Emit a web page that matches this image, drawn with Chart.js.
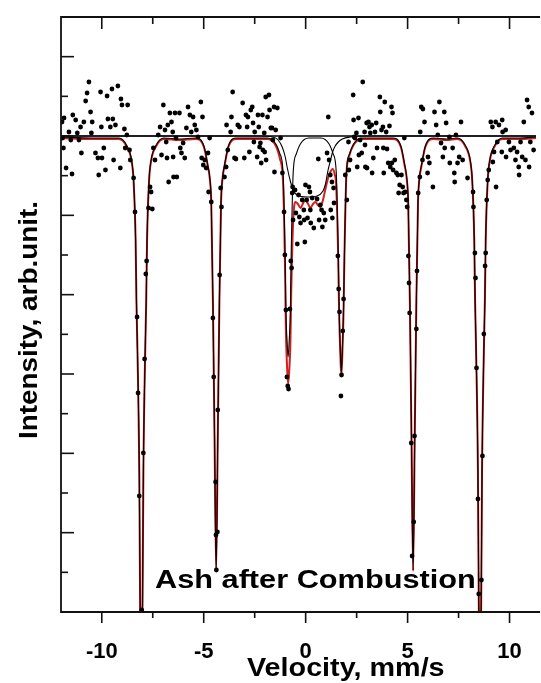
<!DOCTYPE html>
<html>
<head>
<meta charset="utf-8">
<script src="https://cdn.jsdelivr.net/npm/chart.js@4.4.1/dist/chart.umd.min.js"></script>
<style>
  html, body { margin: 0; padding: 0; background: #ffffff; overflow: hidden; }
  canvas { display: block; }
</style>
</head>
<body>
<canvas id="c" width="541" height="683"></canvas>
<script>
// ---------- data (velocity in mm/s, intensity in arb. units) ----------
const velocity = [-11.95,-11.92,-11.88,-11.85,-11.75,-11.61,-11.52,-11.46,-11.42,-11.28,-11.20,-11.12,-11.04,-11.00,-10.88,-10.79,-10.72,-10.63,-10.55,-10.51,-10.47,-10.31,-10.19,-10.15,-10.06,-10.02,-9.99,-9.90,-9.82,-9.74,-9.70,-9.58,-9.50,-9.46,-9.42,-9.33,-9.21,-9.09,-9.06,-9.01,-8.89,-8.85,-8.77,-8.73,-8.64,-8.60,-8.44,-8.37,-8.27,-8.22,-8.16,-8.04,-7.96,-7.90,-7.84,-7.80,-7.71,-7.63,-7.58,-7.52,-7.47,-7.39,-7.23,-7.14,-7.07,-6.98,-6.90,-6.84,-6.80,-6.76,-6.72,-6.66,-6.58,-6.52,-6.50,-6.48,-6.41,-6.36,-6.32,-6.19,-6.15,-6.09,-6.01,-5.93,-5.85,-5.77,-5.68,-5.61,-5.52,-5.44,-5.36,-5.28,-5.14,-5.10,-5.06,-5.02,-4.95,-4.88,-4.79,-4.76,-4.71,-4.63,-4.55,-4.51,-4.42,-4.40,-4.38,-4.33,-4.31,-4.22,-4.17,-4.13,-3.98,-3.90,-3.88,-3.82,-3.68,-3.64,-3.58,-3.49,-3.42,-3.33,-3.25,-3.09,-3.01,-2.93,-2.87,-2.83,-2.76,-2.69,-2.62,-2.58,-2.54,-2.50,-2.38,-2.34,-2.30,-2.26,-2.22,-2.18,-2.12,-2.10,-2.03,-2.01,-1.96,-1.94,-1.87,-1.80,-1.77,-1.71,-1.65,-1.61,-1.55,-1.53,-1.47,-1.39,-1.23,-1.14,-1.06,-1.02,-0.97,-0.92,-0.88,-0.84,-0.77,-0.73,-0.69,-0.66,-0.64,-0.62,-0.52,-0.48,-0.41,-0.35,-0.31,-0.25,-0.17,-0.09,-0.07,-0.04,-0.01,0.05,0.09,0.16,0.21,0.23,0.25,0.32,0.40,0.56,0.62,0.66,0.72,0.78,0.82,0.89,0.96,1.05,1.11,1.15,1.21,1.23,1.29,1.31,1.37,1.39,1.58,1.62,1.66,1.73,1.76,1.82,1.86,1.94,2.02,2.10,2.12,2.18,2.33,2.35,2.38,2.42,2.49,2.53,2.59,2.61,2.67,2.75,2.80,2.89,2.91,2.93,2.99,3.01,3.08,3.13,3.17,3.24,3.26,3.32,3.40,3.46,3.50,3.64,3.66,3.72,3.79,3.81,3.83,3.88,3.95,3.99,4.05,4.11,4.15,4.21,4.23,4.26,4.29,4.37,4.45,4.52,4.56,4.61,4.70,4.76,4.80,4.84,4.88,4.94,4.98,5.04,5.07,5.10,5.18,5.22,5.30,5.34,5.43,5.46,5.52,5.60,5.62,5.67,5.73,5.75,5.83,5.98,6.00,6.07,6.24,6.32,6.40,6.48,6.56,6.64,6.73,6.80,6.82,6.89,7.05,7.07,7.21,7.29,7.31,7.37,7.45,7.53,7.62,7.70,7.94,8.21,8.23,8.30,8.33,8.38,8.45,8.49,8.62,8.67,8.74,8.80,8.83,8.88,8.93,8.98,9.08,9.16,9.18,9.24,9.32,9.34,9.40,9.48,9.62,9.64,9.66,9.81,9.83,9.97,10.05,10.21,10.29,10.37,10.45,10.47,10.54,10.62,10.70,10.78,10.86,10.94,10.96,11.02,11.10,11.18];
const intensity = [490,474,464,494,444,480,472,438,497,492,479,472,485,459,490,511,519,530,500,479,490,459,454,437,520,485,454,464,442,516,493,485,523,493,452,487,526,444,513,507,483,464,477,507,462,452,434,400,295,219,116,2,159,253,338,351,404,425,420,403,464,452,477,485,457,507,482,470,454,487,430,499,490,480,455,435,499,474,435,499,464,459,469,454,484,505,497,480,495,487,482,475,510,454,495,447,452,444,459,420,474,410,294,235,130,77,42,80,202,337,424,405,435,445,487,462,480,495,520,454,453,487,485,509,454,497,485,495,460,502,505,489,470,480,455,497,485,465,469,449,497,462,479,460,515,452,495,517,502,484,484,472,505,440,482,504,474,439,400,357,302,235,226,223,303,351,344,419,425,392,422,399,368,417,395,389,412,402,392,370,427,412,394,425,420,402,389,414,384,413,453,392,407,402,385,399,392,459,495,452,437,402,430,394,424,409,356,323,300,216,237,281,313,437,412,470,442,452,517,492,475,474,479,445,494,457,472,459,530,480,467,445,489,444,490,485,479,487,439,454,480,489,464,515,500,482,485,464,439,510,480,463,449,486,445,505,449,499,442,452,439,437,419,427,437,425,419,474,420,412,405,356,329,299,169,56,90,176,283,341,419,435,480,505,452,503,490,439,455,449,425,500,487,477,510,469,455,500,464,489,475,449,464,439,430,477,449,455,490,452,434,420,405,359,334,244,113,18,32,156,278,346,359,412,432,442,490,485,450,460,490,425,470,487,460,492,480,482,455,470,462,464,452,460,445,437,470,455,490,452,512,505,445,470,499,462];

// fitted sextet sub-spectrum (thin black)
const sextetV = [-12,-10.5,
  -9.16,-8.79,-8.54,-8.44,-8.34,-8.30,-8.25,-8.16,-8.12,-8.06,-8.00,-7.96,-7.87,-7.82,-7.78,-7.68,-7.58,-7.33,-6.96,
  -6.2,
  -5.39,-4.99,-4.81,-4.69,-4.63,-4.55,-4.47,-4.39,-4.31,-4.23,-4.15,-4.09,-3.97,-3.79,-3.39,
  -2.6,
  -1.86,-1.46,-1.26,-1.11,-1.01,-0.97,-0.91,-0.86,-0.81,-0.75,-0.71,-0.61,-0.46,-0.26,0.14,
  0.45,
  0.75,1.15,1.35,1.50,1.60,1.64,1.70,1.75,1.80,1.86,1.90,2.00,2.15,2.35,2.75,
  3.5,
  4.27,4.67,4.85,4.97,5.03,5.11,5.19,5.27,5.35,5.43,5.51,5.57,5.69,5.87,6.27,
  6.9,
  7.45,7.82,8.07,8.17,8.27,8.31,8.36,8.45,8.49,8.55,8.61,8.65,8.74,8.79,8.83,8.93,9.03,9.28,9.65,
  10.5,11.3];
const sextetI = [475,474,
  474,467,452,432,372,312,262,139,12,-67,12,139,262,312,372,432,452,467,474,
  473,
  474,466,448,432,410,312,176,42,176,312,410,432,448,466,474,
  474,
  474,468,458,440,357,302,270,255,270,302,357,440,458,468,474,
  474,
  474,468,458,440,356,305,262,240,262,305,356,440,458,468,474,
  474,
  474,466,448,432,410,312,176,42,176,312,410,432,448,466,474,
  473,
  474,467,452,432,372,312,262,139,12,-67,12,139,262,312,372,432,452,467,474,
  474,475];

// fitted doublet sub-spectrum (thin black)
const doubletV = [-12,-2.2,-1.63,-1.35,-1.15,-1.0,-0.9,-0.74,-0.6,-0.41,0.07,0.56,0.85,0.96,1.1,1.21,1.32,1.45,1.6,1.8,2.2,3.0,11.3];
const doubletI = [476,476,475,472,465,455,444,430,421,417,415,416,421,427,442,451,460,466,470,473,475,476,476];

// total fit (red)
const totalV = [-12,-10.5,
  -9.16,-8.79,-8.54,-8.44,-8.34,-8.30,-8.25,-8.16,-8.12,-8.06,-8.00,-7.96,-7.87,-7.82,-7.78,-7.68,-7.58,-7.33,-6.96,
  -6.2,
  -5.39,-4.99,-4.81,-4.69,-4.63,-4.55,-4.47,-4.39,-4.31,-4.23,-4.15,-4.09,-3.97,-3.79,-3.39,
  -2.6,
  -1.86,-1.46,-1.26,-1.11,-1.01,-0.97,-0.91,-0.86,-0.81,-0.75,-0.71,-0.61,-0.5,-0.38,-0.25,-0.12,-0.01,0.12,0.23,0.36,
  0.48,0.6,0.72,0.85,0.96,1.1,1.21,1.32,1.42,1.50,1.60,1.64,1.70,1.75,1.80,1.86,1.90,2.00,2.15,2.35,2.75,
  3.5,
  4.27,4.67,4.85,4.97,5.03,5.11,5.19,5.27,5.35,5.43,5.51,5.57,5.69,5.87,6.27,
  6.9,
  7.45,7.82,8.07,8.17,8.27,8.31,8.36,8.45,8.49,8.55,8.61,8.65,8.74,8.79,8.83,8.93,9.03,9.28,9.65,
  10.5,11.3];
const totalI = [474,473,
  473,466,451,431,371,311,261,138,11,-68,11,138,261,311,371,431,451,466,473,
  472,
  473,465,447,431,409,311,175,41,175,311,409,431,447,465,473,
  473,
  473,466,453,430,342,282,244,228,240,268,318,392,410,408,404,409,412,408,404,408,
  410,407,405,412,422,434,440,443,438,425,350,300,258,236,258,302,354,438,457,467,473,
  473,
  473,465,447,431,409,311,175,41,175,311,409,431,447,465,473,
  472,
  473,466,451,431,371,311,261,138,11,-68,11,138,261,311,371,431,451,466,473,
  473,474];

// baseline (thin black horizontal)
const baseV = [-12, 11.3];
const baseI = [476, 476];

// axis ticks
const xTickLabels = [-10, -5, 0, 5, 10];
const xTickMarks = [-10, -7.5, -5, -2.5, 0, 2.5, 5, 7.5, 10];
const yTickCount = 15;          // intervals on the intensity axis
const yMax = 595;

const toPts = (xs, ys) => xs.map((x, i) => ({ x: x, y: ys[i] }));

const FONT = '"Liberation Sans", Arial, Helvetica, sans-serif';

function drawStretched(ctx, text, x, y, size, sx, align) {
  ctx.save();
  ctx.translate(x, y);
  ctx.scale(sx, 1);
  ctx.font = 'bold ' + size + 'px ' + FONT;
  ctx.textAlign = align;
  ctx.textBaseline = 'alphabetic';
  ctx.fillStyle = '#000';
  ctx.fillText(text, 0, 0);
  ctx.restore();
}

const framePlugin = {
  id: 'framePlugin',
  afterDraw(chart) {
    const ctx = chart.ctx;
    const a = chart.chartArea;
    const xs = chart.scales.x, ys = chart.scales.y;
    ctx.save();
    ctx.strokeStyle = '#111';
    ctx.lineWidth = 1.8;
    ctx.beginPath();
    ctx.moveTo(a.right + 4, a.top);
    ctx.lineTo(a.left, a.top);
    ctx.lineTo(a.left, a.bottom);
    ctx.lineTo(a.right + 4, a.bottom);
    ctx.stroke();

    ctx.lineWidth = 1.6;
    xTickMarks.forEach(v => {
      const p = xs.getPixelForValue(v);
      const major = (v % 5 === 0);
      ctx.beginPath();
      ctx.moveTo(p, a.top);
      ctx.lineTo(p, a.top + (major ? 12 : 7));
      ctx.moveTo(p, a.bottom);
      ctx.lineTo(p, a.bottom + (major ? 11 : 6));
      ctx.stroke();
    });
    for (let k = 1; k < yTickCount; k++) {
      const p = ys.getPixelForValue(k * yMax / yTickCount);
      const major = (k % 2 === 0);
      ctx.beginPath();
      ctx.moveTo(a.left, p);
      ctx.lineTo(a.left + (major ? 13 : 7), p);
      ctx.stroke();
    }

    // texts
    drawStretched(ctx, 'Ash after Combustion', 155, 588, 25.6, 1.2, 'left');
    drawStretched(ctx, 'Velocity, mm/s', 247, 676, 25, 1.15, 'left');
    ctx.save();
    ctx.translate(36.5, 320);
    ctx.rotate(-Math.PI / 2);
    ctx.scale(1.09, 1);
    ctx.font = 'bold 25.6px ' + FONT;
    ctx.textAlign = 'center';
    ctx.textBaseline = 'alphabetic';
    ctx.fillStyle = '#000';
    ctx.fillText('Intensity, arb.unit.', 0, 0);
    ctx.restore();
    ctx.restore();
  }
};

new Chart(document.getElementById('c'), {
  type: 'scatter',
  data: {
    datasets: [
      { label: 'data', data: toPts(velocity, intensity), showLine: false,
        pointRadius: 2.4, pointBackgroundColor: '#000', pointBorderWidth: 0, order: 0 },
      { label: 'doublet', data: toPts(doubletV, doubletI), showLine: true, pointRadius: 0,
        borderColor: '#000', borderWidth: 1.1, cubicInterpolationMode: 'monotone', order: 1 },
      { label: 'sextet', data: toPts(sextetV, sextetI), showLine: true, pointRadius: 0,
        borderColor: '#000', borderWidth: 1.1, cubicInterpolationMode: 'monotone', order: 2 },
      { label: 'total', data: toPts(totalV, totalI), showLine: true, pointRadius: 0,
        borderColor: '#d21f1f', borderWidth: 2, cubicInterpolationMode: 'monotone', order: 3 },
      { label: 'baseline', data: toPts(baseV, baseI), showLine: true, pointRadius: 0,
        borderColor: '#000', borderWidth: 1.6, order: 4 }
    ]
  },
  options: {
    responsive: false,
    animation: false,
    devicePixelRatio: 1,
    layout: { padding: { left: 61, top: 17, right: 0, bottom: 0 } },
    plugins: { legend: { display: false }, tooltip: { enabled: false } },
    scales: {
      x: {
        type: 'linear', min: -12, max: 11.3,
        grid: { display: false }, border: { display: false },
        afterBuildTicks: s => { s.ticks = xTickLabels.map(v => ({ value: v })); },
        afterFit: s => { s.height = 71; },
        ticks: { font: { family: FONT, weight: 'bold', size: 22 }, color: '#000',
                 padding: 19, autoSkip: false, maxRotation: 0, minRotation: 0 }
      },
      y: { min: 0, max: yMax, display: false }
    }
  },
  plugins: [framePlugin]
});
</script>
</body>
</html>
